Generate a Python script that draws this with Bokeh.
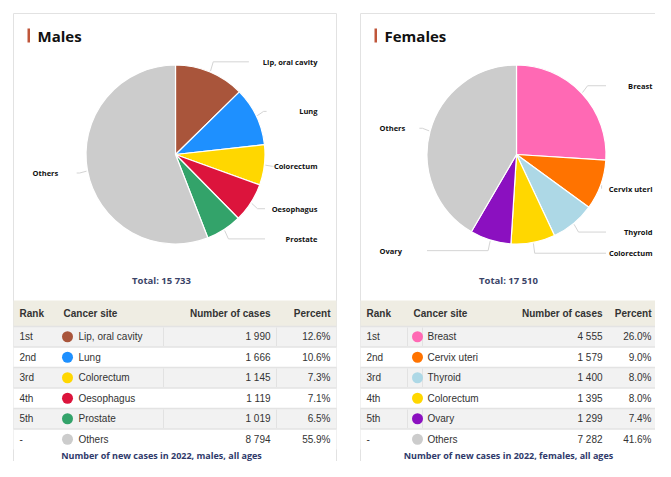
import math
from bokeh.plotting import figure
from bokeh.models import Range1d
from bokeh.core.properties import value
from bokeh.embed import file_html
from bokeh.resources import INLINE

# ---------------- data ----------------
male_sites = ["Lip, oral cavity", "Lung", "Colorectum", "Oesophagus", "Prostate", "Others"]
male_cases = [1990, 1666, 1145, 1119, 1019, 8794]
male_colors = ["#a9553b", "#1e90ff", "#ffd700", "#dc143c", "#33a36a", "#cccccc"]

female_sites = ["Breast", "Cervix uteri", "Thyroid", "Colorectum", "Ovary", "Others"]
female_cases = [4555, 1579, 1400, 1395, 1299, 7282]
female_colors = ["#ff69b4", "#ff7300", "#add8e6", "#ffd700", "#8b10c0", "#cccccc"]

ranks = ["1st", "2nd", "3rd", "4th", "5th", "-"]
headers = ["Rank", "Cancer site", "Number of cases", "Percent"]

# ---------------- figure (data units == picture pixels, y = -py) ----------------
W, H = 655, 461
p = figure(width=W, height=H, output_backend="svg", toolbar_location=None,
           x_range=Range1d(0, W), y_range=Range1d(-H, 0),
           min_border=0, background_fill_color="white", border_fill_color="white")
p.axis.visible = False
p.grid.visible = False
p.outline_line_color = None

TITLE_FONT = value("Open Sans")
TABLE_FONT = value("Liberation Sans")


def fmt(n):
    return f"{n:,}".replace(",", " ")


def panel(left, right, title, sites, cases, colors, cx, cy, r, gender,
          lab_dx, num_right, pct_right):
    # panel border
    p.quad(left=[left], right=[right], top=[-13], bottom=[-520], fill_color=None,
           line_color="#e2e2e2", line_width=1)
    # title
    p.quad(left=[left + 14], right=[left + 16.5], top=[-28], bottom=[-42],
           fill_color="#c0563a", line_color=None)
    p.text(x=[left + 24], y=[-35.5], text=[title], text_font=TITLE_FONT,
           text_font_size="15px", text_font_style="bold", text_color="#111111",
           text_align="left", text_baseline="middle")

    total = sum(cases)
    fr = [c / total for c in cases]
    cum = [0.0]
    for f in fr:
        cum.append(cum[-1] + f)
    starts = [math.pi / 2 - 2 * math.pi * c for c in cum[:-1]]
    ends = [math.pi / 2 - 2 * math.pi * c for c in cum[1:]]
    p.wedge(x=[cx] * len(cases), y=[-cy] * len(cases), radius=r,
            start_angle=starts, end_angle=ends, direction="clock",
            fill_color=colors, line_color="white", line_width=1.2)

    # labels + connectors
    R = r + 11
    xs, ys, lx, ly, la, lt = [], [], [], [], [], []
    for i, s in enumerate(sites):
        a = 2 * math.pi * (cum[i] + fr[i] / 2)
        sa, ca = math.sin(a), math.cos(a)
        ex, ey = cx + (r + 1) * sa, cy - (r + 1) * ca
        yl = cy - R * ca
        est_w = 4.1 * len(s)
        if sa >= 0:
            x_lab = cx + lab_dx
            p1x = min(cx + (r + 8) * sa, max(ex, x_lab - est_w - 3))
            p2x = max(p1x, min(max(p1x + 3, cx + r), x_lab - est_w - 3))
            la.append("right")
        else:
            x_lab = left + 19
            p1x = cx + (r + 8) * sa
            p2x = min(p1x - 3, cx - r)
            la.append("left")
        lx.append(x_lab)
        xs.append([ex, p1x, p2x])
        ys.append([-ey, -yl, -yl])
        ly.append(-yl)
        lt.append(s)
    p.multi_line(xs=xs, ys=ys, line_color="#d4d4d4", line_width=1)
    for x, y, a, t in zip(lx, ly, la, lt):
        p.text(x=[x], y=[y], text=[t], text_font=TITLE_FONT, text_font_size="7.5px",
               text_font_style="bold", text_color="#111111", text_align=a,
               text_baseline="middle")

    p.text(x=[left + 148], y=[-280], text=["Total: " + fmt(total)], text_font=TITLE_FONT,
           text_font_size="9.5px", text_font_style="bold", text_color="#3b4468",
           text_align="center", text_baseline="middle")

    # table
    tl, tr = left, right
    h_top, h_bot = 300, 326
    p.quad(left=[tl], right=[tr], top=[-h_top], bottom=[-h_bot], fill_color="#efede3",
           line_color=None)
    hy = -(h_top + h_bot) / 2
    col_rank = tl + 6
    col_site_h = tl + (50 if gender == "males" else 53)
    col_dot = tl + (54 if gender == "males" else 57)
    col_site = tl + (65 if gender == "males" else 67)
    col_num = tl + num_right
    col_pct = tl + pct_right
    for x, t, a in zip([col_rank, col_site_h, col_num, col_pct], headers,
                       ["left", "left", "right", "right"]):
        p.text(x=[x], y=[hy], text=[t], text_font=TABLE_FONT, text_font_size="10px",
               text_font_style="bold", text_color="#333333", text_align=a,
               text_baseline="middle")
    rh = 20.5
    tops = [-(h_bot + rh * i) for i in range(len(ranks))]
    bots = [t - rh for t in tops]
    fills = ["#f2f2f2" if i % 2 == 0 else "#ffffff" for i in range(len(ranks))]
    p.quad(left=[tl] * len(ranks), right=[tr] * len(ranks), top=tops, bottom=bots,
           fill_color=fills, line_color=None)
    # row separators
    p.multi_line(xs=[[tl, tr]] * (len(ranks)), ys=[[t, t] for t in tops],
                 line_color="#e3e3e3", line_width=1.5)
    # vertical separators on grey rows
    seps = [150, 263] if gender == "males" else [47, 62]
    vx, vy = [], []
    for i in range(0, len(ranks), 2):
        for s in seps:
            vx.append([tl + s, tl + s])
            vy.append([tops[i] - 1, bots[i] + 1])
    p.multi_line(xs=vx, ys=vy, line_color="#e2e2e2", line_width=1)

    cy_rows = [t - rh / 2 for t in tops]
    p.text(x=[col_rank] * 6, y=cy_rows, text=ranks, text_font=TABLE_FONT,
           text_font_size="10px", text_color="#333333", text_align="left",
           text_baseline="middle")
    p.scatter(x=[col_dot] * 6, y=cy_rows, size=11, fill_color=colors, line_color=None)
    p.text(x=[col_site] * 6, y=cy_rows, text=sites, text_font=TABLE_FONT,
           text_font_size="10px", text_color="#333333", text_align="left",
           text_baseline="middle")
    p.text(x=[col_num] * 6, y=cy_rows, text=[fmt(c) for c in cases], text_font=TABLE_FONT,
           text_font_size="10px", text_color="#333333", text_align="right",
           text_baseline="middle")
    p.text(x=[col_pct] * 6, y=cy_rows, text=[f"{100 * c / total:.1f}%" for c in cases],
           text_font=TABLE_FONT, text_font_size="10px", text_color="#333333",
           text_align="right", text_baseline="middle")

    p.text(x=[left + 148], y=[-455], text=[f"Number of new cases in 2022, {gender}, all ages"],
           text_font=TITLE_FONT, text_font_size="9px", text_font_style="bold",
           text_color="#2f3a6b", text_align="center", text_baseline="middle")


panel(13, 336, "Males", male_sites, male_cases, male_colors, 175, 154, 89.5, "males",
      142, 257, 317)
panel(360, 720, "Females", female_sites, female_cases, female_colors, 516, 154, 89.5,
      "females", 136, 242, 291)

open("out.html", "w").write(file_html(p, INLINE))
